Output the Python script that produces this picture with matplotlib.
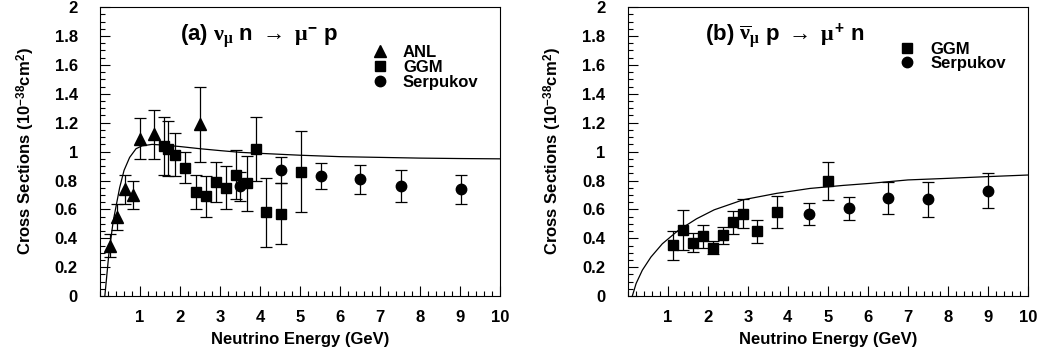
import matplotlib
matplotlib.use('Agg')
import matplotlib.pyplot as plt
from matplotlib.lines import Line2D
from matplotlib.ticker import MultipleLocator, FormatStrFormatter

plt.rcParams['font.family'] = 'Liberation Sans'
plt.rcParams['font.weight'] = 'bold'
plt.rcParams['mathtext.fontset'] = 'custom'
plt.rcParams['mathtext.rm'] = 'Liberation Sans:bold'
plt.rcParams['mathtext.bf'] = 'Liberation Sans:bold'
plt.rcParams['mathtext.it'] = 'Liberation Serif'

# panel (a): nu_mu n -> mu- p
a_anl_x = [0.25, 0.42, 0.62, 0.82, 1.01, 1.35, 2.5]
a_anl_y = [0.35, 0.55, 0.74, 0.70, 1.09, 1.12, 1.19]
a_anl_e = [0.08, 0.09, 0.10, 0.10, 0.14, 0.17, 0.26]

a_ggm_x = [1.61, 1.71, 1.87, 2.12, 2.39, 2.64, 2.89, 3.14, 3.39, 3.67, 3.89, 4.14, 4.52, 5.02]
a_ggm_y = [1.04, 1.02, 0.98, 0.89, 0.72, 0.69, 0.79, 0.75, 0.84, 0.78, 1.02, 0.58, 0.57, 0.86]
a_ggm_e = [0.20, 0.19, 0.15, 0.11, 0.12, 0.14, 0.14, 0.15, 0.17, 0.19, 0.22, 0.24, 0.21, 0.28]

a_serp_x = [3.5, 4.52, 5.52, 6.5, 7.52, 9.02]
a_serp_y = [0.76, 0.87, 0.83, 0.81, 0.76, 0.74]
a_serp_e = [0.10, 0.09, 0.09, 0.10, 0.11, 0.10]

a_curve_x = [0.12, 0.22, 0.33, 0.49, 0.6, 0.74, 0.9, 1.05, 1.3, 1.6, 2.0, 2.5, 3.0, 3.5, 4.0,
             5.0, 6.0, 7.0, 8.0, 9.0, 10.0]
a_curve_y = [0.0, 0.29, 0.52, 0.75, 0.87, 0.96, 1.02, 1.04, 1.05, 1.045, 1.035, 1.02, 1.007,
             0.995, 0.988, 0.975, 0.965, 0.96, 0.955, 0.952, 0.95]

# panel (b): anti-nu_mu p -> mu+ n
b_ggm_x = [1.12, 1.37, 1.62, 1.87, 2.12, 2.37, 2.62, 2.87, 3.24, 3.74, 5.0]
b_ggm_y = [0.353, 0.457, 0.37, 0.415, 0.335, 0.42, 0.51, 0.57, 0.45, 0.58, 0.797]
b_ggm_e = [0.10, 0.14, 0.065, 0.08, 0.045, 0.06, 0.08, 0.10, 0.08, 0.11, 0.13]

b_serp_x = [4.52, 5.52, 6.5, 7.49, 9.0]
b_serp_y = [0.566, 0.607, 0.677, 0.67, 0.73]
b_serp_e = [0.075, 0.08, 0.11, 0.12, 0.12]

b_curve_x = [0.115, 0.21, 0.365, 0.58, 0.865, 1.26, 1.72, 2.16, 2.89, 3.72, 4.55, 5.38, 6.05,
             7.0, 8.0, 9.0, 10.0]
b_curve_y = [0.0, 0.087, 0.179, 0.27, 0.362, 0.454, 0.535, 0.597, 0.667, 0.711, 0.745, 0.766,
             0.78, 0.804, 0.815, 0.827, 0.838]

fig = plt.figure(figsize=(10.42, 3.58), dpi=100)
ax1 = fig.add_axes([0.096, 0.173, 0.384, 0.807])
ax2 = fig.add_axes([0.6024, 0.173, 0.3842, 0.807])

eb = dict(color='k', ls='none', elinewidth=0.9, capsize=4, capthick=0.9)


def style(ax):
    ax.set_xlim(0, 10)
    ax.set_ylim(0, 2)
    ax.set_xticks(range(1, 11))
    ax.xaxis.set_minor_locator(MultipleLocator(0.2))
    ax.yaxis.set_major_locator(MultipleLocator(0.2))
    ax.yaxis.set_minor_locator(MultipleLocator(0.05))
    ax.yaxis.set_major_formatter(FormatStrFormatter('%g'))
    ax.tick_params(which='both', direction='in', top=False, right=False, labelsize=12,
                   width=0.8)
    ax.tick_params(which='major', length=7)
    ax.tick_params(which='minor', length=3.5)
    ax.tick_params(axis='x', which='major', pad=10)
    ax.tick_params(axis='y', which='major', pad=16)
    for s in ax.spines.values():
        s.set_linewidth(0.8)
    for lab in ax.get_xticklabels() + ax.get_yticklabels():
        lab.set_fontweight('bold')
    ax.set_xlabel('Neutrino Energy (GeV)', fontsize=12, fontweight='bold', labelpad=5)
    ax.set_ylabel(r'Cross Sections (10$^{\mathbf{-38}}$cm$^{\mathbf{2}}$)', fontsize=12,
                  fontweight='bold', labelpad=13)


ax1.plot(a_curve_x, a_curve_y, color='k', lw=0.9)
ax1.errorbar(a_anl_x, a_anl_y, yerr=a_anl_e, marker='^', ms=8, **eb)
ax1.errorbar(a_ggm_x, a_ggm_y, yerr=a_ggm_e, marker='s', ms=7.5, **eb)
ax1.errorbar(a_serp_x, a_serp_y, yerr=a_serp_e, marker='o', ms=7.5, **eb)
style(ax1)
ax1.text(2.0, 1.8, r'(a) $\nu_\mu$ n $\rightarrow$ $\mu^{-}$ p', fontsize=16,
         fontweight='bold', va='center')
h1 = [Line2D([], [], marker='^', ms=8, ls='none', color='k'),
      Line2D([], [], marker='s', ms=7.5, ls='none', color='k'),
      Line2D([], [], marker='o', ms=7.5, ls='none', color='k')]
ax1.legend(h1, ['ANL', 'GGM', 'Serpukov'], loc='upper left', bbox_to_anchor=(0.68, 0.87),
           frameon=False, fontsize=12, labelspacing=0.0, handlelength=0.9,
           handletextpad=0.95, borderpad=0, borderaxespad=0)

ax2.plot(b_curve_x, b_curve_y, color='k', lw=0.9)
ax2.errorbar(b_ggm_x, b_ggm_y, yerr=b_ggm_e, marker='s', ms=7.5, **eb)
ax2.errorbar(b_serp_x, b_serp_y, yerr=b_serp_e, marker='o', ms=7.5, **eb)
style(ax2)
ax2.text(1.93, 1.8, r'(b) $\overline{\nu}_\mu$ p $\rightarrow$ $\mu^{+}$ n', fontsize=16,
         fontweight='bold', va='center')
h2 = [Line2D([], [], marker='s', ms=7.5, ls='none', color='k'),
      Line2D([], [], marker='o', ms=7.5, ls='none', color='k')]
ax2.legend(h2, ['GGM', 'Serpukov'], loc='upper left', bbox_to_anchor=(0.68, 0.88),
           frameon=False, fontsize=12, labelspacing=-0.05, handlelength=0.9,
           handletextpad=0.95, borderpad=0, borderaxespad=0)

fig.savefig('out.png', dpi=100)
